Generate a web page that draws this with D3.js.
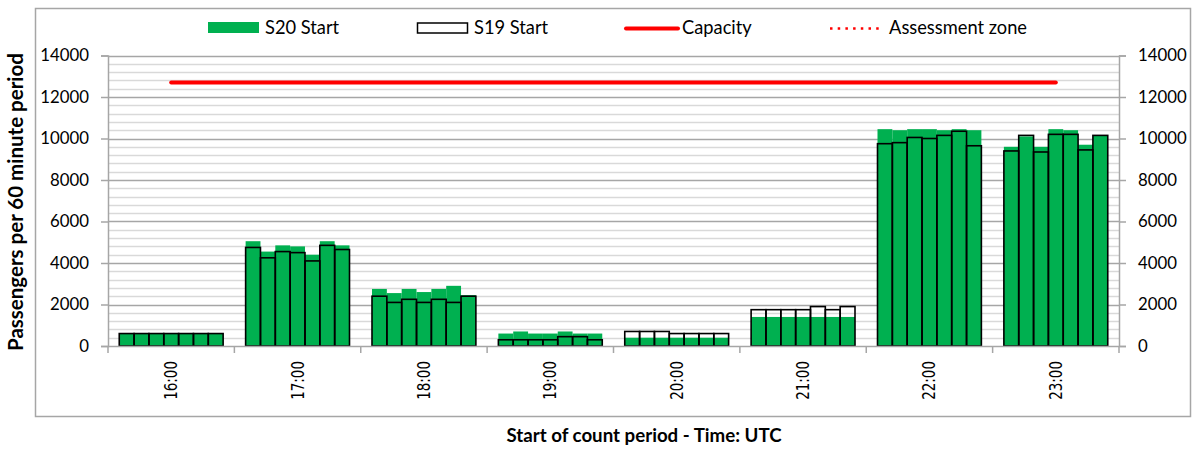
<!DOCTYPE html>
<html>
<head>
<meta charset="utf-8">
<script src="https://cdn.jsdelivr.net/npm/d3@7"></script>
<style>
  html, body { margin: 0; padding: 0; background: #fff; }
  svg { display: block; }
  text { font-family: Lato, "Liberation Sans", sans-serif; fill: #000; }
</style>
</head>
<body>
<svg id="chart" width="1196" height="451"></svg>
<script>
// Hour groups on the category axis
const hours = ["16:00", "17:00", "18:00", "19:00", "20:00", "21:00", "22:00", "23:00"];

// Seven 60-minute counts per hour group (start offsets within the hour)
const slots = [0, 1, 2, 3, 4, 5, 6];

// S20 counts, one row per hour group
const s20 = [
  [600, 600, 600, 600, 600, 600, 600],
  [5050, 4550, 4850, 4800, 4400, 5050, 4850],
  [2750, 2550, 2750, 2600, 2750, 2900, 2450],
  [600, 700, 600, 600, 700, 600, 600],
  [400, 400, 400, 400, 400, 400, 400],
  [1400, 1400, 1400, 1400, 1400, 1400, 1400],
  [10450, 10400, 10450, 10450, 10400, 10450, 10400],
  [9600, 10100, 9600, 10450, 10400, 9700, 10150]
];

// S19 counts, one row per hour group
const s19 = [
  [600, 600, 600, 600, 600, 600, 600],
  [4750, 4250, 4550, 4500, 4100, 4850, 4650],
  [2400, 2100, 2250, 2100, 2250, 2100, 2400],
  [300, 300, 300, 300, 450, 450, 300],
  [700, 700, 700, 600, 600, 600, 600],
  [1750, 1750, 1750, 1750, 1900, 1750, 1900],
  [9750, 9800, 10050, 10000, 10150, 10350, 9650],
  [9400, 10150, 9350, 10200, 10200, 9450, 10150]
];

// Capacity per hour group
const capacity = [12700, 12700, 12700, 12700, 12700, 12700, 12700, 12700];

// Axis ticks
const yTicks = [0, 2000, 4000, 6000, 8000, 10000, 12000, 14000];
const yMinor = d3.range(0, 14001, 400);

const legendItems = ["S20 Start", "S19 Start", "Capacity", "Assessment zone"];

const GREEN = "#00B050";
const RED = "#FF0000";

const svg = d3.select("#chart");

const plot = { left: 108, right: 1119, top: 55.5, bottom: 346 };

const x = d3.scaleBand()
  .domain(hours)
  .range([plot.left, plot.right])
  .paddingInner(0.178)
  .paddingOuter(0.089);

const xs = d3.scaleBand()
  .domain(slots)
  .range([0, x.bandwidth()])
  .padding(0);

const y = d3.scaleLinear()
  .domain([0, 14000])
  .range([plot.bottom, plot.top]);

// Outer chart frame
svg.append("rect")
  .attr("x", 35.5).attr("y", 8.5)
  .attr("width", 1155).attr("height", 408)
  .attr("fill", "none")
  .attr("stroke", "#A6A6A6")
  .attr("stroke-width", 1.5);

// Minor gridlines
svg.append("g")
  .selectAll("line")
  .data(yMinor.filter(v => v % 2000 !== 0))
  .join("line")
  .attr("x1", plot.left).attr("x2", plot.right)
  .attr("y1", d => Math.round(y(d)) + 0.5)
  .attr("y2", d => Math.round(y(d)) + 0.5)
  .attr("stroke", "#D9D9D9")
  .attr("stroke-width", 1.5);

// Major gridlines
svg.append("g")
  .selectAll("line")
  .data(yTicks.filter(v => v > 0))
  .join("line")
  .attr("x1", plot.left).attr("x2", plot.right)
  .attr("y1", d => Math.round(y(d)) + 0.5)
  .attr("y2", d => Math.round(y(d)) + 0.5)
  .attr("stroke", "#A6A6A6")
  .attr("stroke-width", 1.5);

// S20 bars (filled)
const rows20 = hours.flatMap((h, i) => slots.map(s => ({ h, s, v: s20[i][s] })));
const rows19 = hours.flatMap((h, i) => slots.map(s => ({ h, s, v: s19[i][s] })));

svg.append("g")
  .selectAll("rect")
  .data(rows20)
  .join("rect")
  .attr("x", d => x(d.h) + xs(d.s))
  .attr("width", xs.bandwidth())
  .attr("y", d => y(d.v))
  .attr("height", d => y(0) - y(d.v))
  .attr("fill", GREEN);

// S19 bars (outline only)
svg.append("g")
  .selectAll("rect")
  .data(rows19)
  .join("rect")
  .attr("x", d => x(d.h) + xs(d.s))
  .attr("width", xs.bandwidth())
  .attr("y", d => y(d.v))
  .attr("height", d => y(0) - y(d.v))
  .attr("fill", "none")
  .attr("stroke", "#000")
  .attr("stroke-width", 1.6);

// Capacity line through group centres
svg.append("path")
  .datum(capacity)
  .attr("fill", "none")
  .attr("stroke", RED)
  .attr("stroke-width", 4)
  .attr("stroke-linecap", "round")
  .attr("d", d3.line()
    .x((d, i) => x(hours[i]) + x.bandwidth() / 2)
    .y(d => y(d)));

// Axes
const axisColor = "#A6A6A6";

const yLeft = svg.append("g")
  .attr("transform", `translate(${plot.left},0)`)
  .call(d3.axisLeft(y).tickValues(yTicks).tickSize(7).tickPadding(12).tickFormat(d3.format("d")));
const yRight = svg.append("g")
  .attr("transform", `translate(${plot.right},0)`)
  .call(d3.axisRight(y).tickValues(yTicks).tickSize(7).tickPadding(12).tickFormat(d3.format("d")));

[yLeft, yRight].forEach(g => {
  g.select(".domain").attr("stroke", axisColor).attr("stroke-width", 1.5);
  g.selectAll(".tick line").attr("stroke", axisColor).attr("stroke-width", 1.5);
  g.selectAll(".tick text")
    .attr("font-family", "Lato, sans-serif")
    .attr("font-size", 16.8)
    .attr("fill", "#000");
});

// Category axis: ticks sit on the group boundaries
const xAxis = svg.append("g").attr("transform", `translate(0,${plot.bottom})`);
xAxis.append("line")
  .attr("x1", plot.left).attr("x2", plot.right)
  .attr("y1", 0.5).attr("y2", 0.5)
  .attr("stroke", axisColor).attr("stroke-width", 1.5);
const bounds = hours.map(h => x(h) - x.step() * x.paddingInner() / 2).concat([plot.right]);
xAxis.selectAll("line.tk")
  .data(bounds)
  .join("line")
  .attr("class", "tk")
  .attr("x1", d => d).attr("x2", d => d)
  .attr("y1", 0).attr("y2", 7)
  .attr("stroke", axisColor).attr("stroke-width", 1.5);
xAxis.selectAll("text")
  .data(hours)
  .join("text")
  .attr("transform", d => `translate(${x(d) + x.bandwidth() / 2 + 6},15) rotate(-90) scale(1,1.25)`)
  .attr("text-anchor", "end")
  .attr("font-size", 13.5)
  .style("font-family", "'DejaVu Sans', sans-serif")
  .text(d => d);

// Axis titles
svg.append("text")
  .attr("transform", "translate(23,202) rotate(-90)")
  .attr("text-anchor", "middle")
  .attr("font-weight", "bold")
  .attr("font-size", 20.5)
  .text("Passengers per 60 minute period");

svg.append("text")
  .attr("x", 644).attr("y", 442)
  .attr("text-anchor", "middle")
  .attr("font-weight", "bold")
  .attr("font-size", 18.7)
  .text("Start of count period - Time: UTC");

// Legend
const legend = svg.append("g");
const lg = [
  { x: 208, label: legendItems[0], kind: "fill" },
  { x: 417, label: legendItems[1], kind: "outline" },
  { x: 625, label: legendItems[2], kind: "line" },
  { x: 829, label: legendItems[3], kind: "dots" }
];
lg.forEach(item => {
  const g = legend.append("g").attr("transform", `translate(${item.x},28)`);
  if (item.kind === "fill") {
    g.append("rect").attr("x", 0).attr("y", -6).attr("width", 51).attr("height", 11).attr("fill", GREEN);
  } else if (item.kind === "outline") {
    g.append("rect").attr("x", 0.5).attr("y", -5).attr("width", 50).attr("height", 10)
      .attr("fill", "#fff").attr("stroke", "#000").attr("stroke-width", 1.5);
  } else if (item.kind === "line") {
    g.append("line").attr("x1", 1).attr("x2", 53).attr("y1", 0.5).attr("y2", 0.5)
      .attr("stroke", RED).attr("stroke-width", 4).attr("stroke-linecap", "round");
  } else {
    g.append("line").attr("x1", 1).attr("x2", 54).attr("y1", 0.5).attr("y2", 0.5)
      .attr("stroke", RED).attr("stroke-width", 2.5)
      .attr("stroke-dasharray", "2.5,5.2").attr("stroke-linecap", "butt");
  }
  g.append("text")
    .attr("x", item.kind === "dots" ? 60 : 57)
    .attr("y", 6)
    .attr("font-size", 18.3)
    .text(item.label);
});
</script>
</body>
</html>
